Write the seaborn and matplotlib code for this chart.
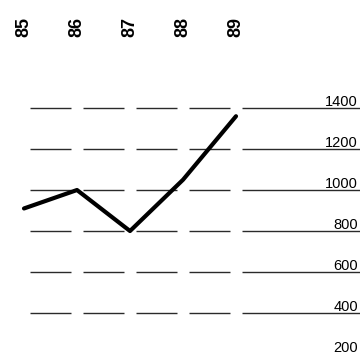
import matplotlib
matplotlib.use('Agg')
import matplotlib.pyplot as plt
import matplotlib.transforms as mtransforms
import seaborn as sns
import pandas as pd

# data
years = [85, 86, 87, 88, 89]
year_labels = ['85', '86', '87', '88', '89']
values = [910, 1000, 800, 1050, 1360]
y_ticks = [200, 400, 600, 800, 1000, 1200, 1400]
grid_levels = [400, 600, 800, 1000, 1200, 1400]

sns.set_style('white')
plt.rcParams['font.family'] = ['Liberation Sans', 'DejaVu Sans']

fig = plt.figure(figsize=(3.6, 3.54), dpi=100)
ax = fig.add_axes([0, 0, 1, 1])

x_left = years[0] - 24 / 53
x_right = years[0] + (360 - 24) / 53
ax.set_xlim(x_left, x_right)
ax.set_ylim(200, 1927)

# dashed guide lines, broken at each year
gap = 0.113
for lvl in grid_levels:
    for a, b in zip(years[:-1], years[1:]):
        ax.hlines(lvl, a + gap, b - gap, color='#2a2a2a', lw=1.0)
    ax.hlines(lvl, years[-1] + gap, x_right, color='#2a2a2a', lw=1.0)

df = pd.DataFrame({'year': years, 'value': values})
sns.lineplot(data=df, x='year', y='value', color='black', lw=3, ax=ax)

# value labels on the right
lab_tr = mtransforms.offset_copy(ax.get_yaxis_transform(), fig=fig, x=0, y=2, units='dots')
for t in y_ticks:
    ax.text(0.994, t, str(t), transform=lab_tr, ha='right', va='baseline',
            fontsize=10.5, color='black')

# year labels on top
top_tr = ax.get_xaxis_transform()
for x, lab in zip(years, year_labels):
    ax.text(x, 1 - 27 / 354, lab, transform=top_tr, rotation=90, ha='center', va='center',
            fontsize=13, fontweight='bold', color='black')

ax.set_axis_off()
fig.savefig('out.png', dpi=100)
